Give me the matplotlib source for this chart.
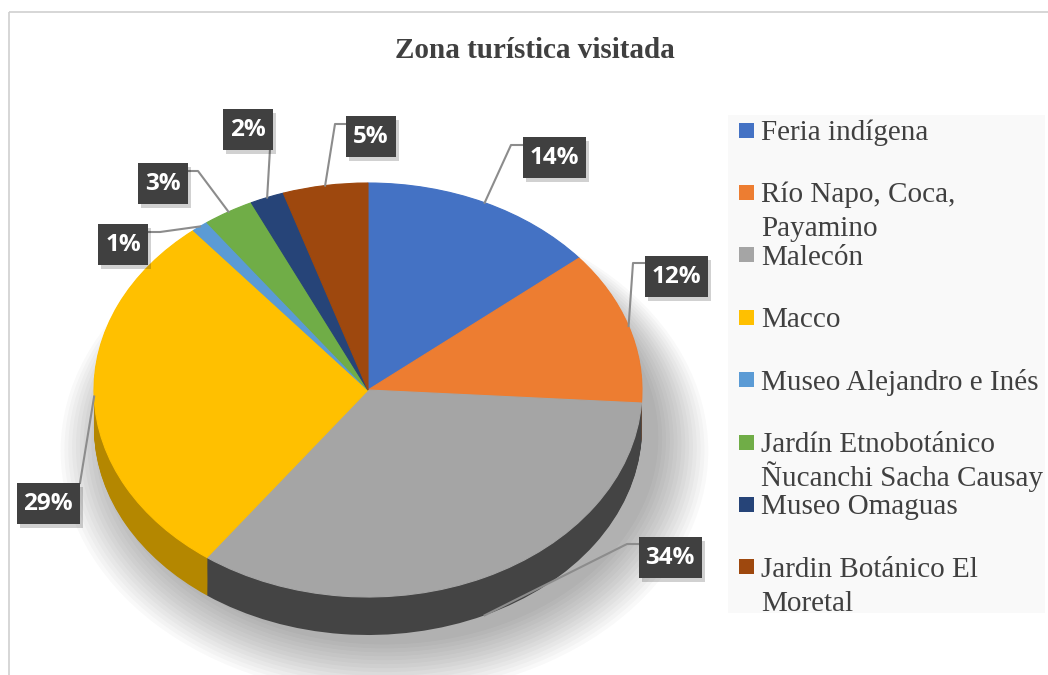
import numpy as np
import matplotlib
matplotlib.use("Agg")
import matplotlib.pyplot as plt
from matplotlib.patches import Rectangle, Ellipse

# datos
categorias = ["Feria indígena", "Río Napo, Coca,\nPayamino", "Malecón", "Macco",
              "Museo Alejandro e Inés", "Jardín Etnobotánico\nÑucanchi Sacha Causay",
              "Museo Omaguas", "Jardin Botánico El\nMoretal"]
valores = [14, 12, 34, 29, 1, 3, 2, 5]
titulo = "Zona turística visitada"

colores = ["#4472c4", "#ed7d31", "#a5a5a5", "#ffc000", "#5b9bd5", "#70ad47", "#264478", "#9e480e"]
laterales = ["#2f5091", "#b35b1f", "#444444", "#b48700", "#3f72a0", "#4f7d32", "#1a3055", "#6e320a"]

W, H = 1048, 675
cx, cy, rx, ry = 368, 390, 274, 207   # elipse de la cara superior (pixeles)
prof = 38                              # grosor del pastel

fig = plt.figure(figsize=(W / 100, H / 100), dpi=100)

# --- pastel ---
ax = fig.add_axes([0, 0, 1, 1])
yc = H - cy
# sombra difusa
for i in range(14):
    s = 1.0 + 0.014 * i
    ax.add_patch(Ellipse((0.06, -0.23 - 0.005 * i), 2 * s, 2 * s, fc="black",
                         alpha=0.024, lw=0, zorder=0))
dy = prof / ry
for k in np.linspace(dy, 0.002, 40):
    ax.pie(valores, colors=laterales, startangle=90, counterclock=False,
           center=(0, -k), radius=1,
           wedgeprops=dict(linewidth=0.6, edgecolor="none"))
w, _ = ax.pie(valores, colors=colores, startangle=90, counterclock=False,
              center=(0, 0), radius=1, wedgeprops=dict(linewidth=0.8))
for wd, c in zip(w, colores):
    wd.set_edgecolor(c)
ax.set_aspect("auto")
ax.set_xlim(-cx / rx, (W - cx) / rx)
ax.set_ylim(-yc / ry, (H - yc) / ry)
ax.axis("off")

# --- capa de textos en pixeles ---
ov = fig.add_axes([0, 0, 1, 1])
ov.set_xlim(0, W)
ov.set_ylim(H, 0)
ov.axis("off")
ov.patch.set_alpha(0)

ov.add_patch(Rectangle((9, 12), W + 20, H, fill=False, ec="#d0d0d0", lw=1.2))
ov.text(535, 50, titulo, ha="center", va="center", fontsize=21, fontweight="bold",
        family="Liberation Serif", color="#404040")

# etiquetas de porcentaje
cajas = [(554, 157), (676, 276), (670, 557), (48, 503), (123, 244), (163, 183), (248, 129), (371, 136)]
codos = [[(511, 145), (522, 145)], [(633, 263), (645, 263)], [(627, 544), (639, 544)],
         [(80, 483)], [(160, 232), (148, 232)], [(198, 171), (188, 171)],
         [(270, 149)], [(335, 124), (346, 124)]]
acum = np.cumsum([0] + valores)
for i, v in enumerate(valores):
    ang = np.deg2rad(90 - 360 * (acum[i] + v / 2) / 100)
    ax_ = cx + rx * np.cos(ang)
    ay_ = cy - ry * np.sin(ang)
    if np.sin(ang) < -0.5:
        ay_ += prof
    pts = [(ax_, ay_)] + codos[i]
    ov.plot([p[0] for p in pts], [p[1] for p in pts], color="#8c8c8c", lw=1.5, zorder=3)
    txt = f"{v}%"
    bw = 63 if len(txt) == 3 else 50
    bh = 41
    bx, by = cajas[i]
    ov.add_patch(Rectangle((bx - bw / 2 + 3, by - bh / 2 + 4), bw, bh, fc="black",
                           alpha=0.18, lw=0, zorder=4))
    ov.add_patch(Rectangle((bx - bw / 2, by - bh / 2), bw, bh, fc="#404040", lw=0, zorder=5))
    ov.text(bx, by + 1, txt, ha="center", va="center", color="white", fontsize=17.5,
            fontweight="bold", family="Open Sans", zorder=6)

# leyenda
ov.add_patch(Rectangle((728, 115), 317, 498, fc="#f9f9f9", lw=0, zorder=1))
ly0, paso = 130, 62.4
for i, (cat, c) in enumerate(zip(categorias, colores)):
    y = ly0 + paso * i
    ov.add_patch(Rectangle((739, y - 7.5), 15, 15, fc=c, lw=0, zorder=2))
    for j, linea in enumerate(cat.split("\n")):
        ov.text(761, y + 10 + 34 * j, linea, ha="left", va="baseline", fontsize=21,
                family="Liberation Serif", color="#404040", zorder=2)

fig.savefig("out.png", dpi=100)
